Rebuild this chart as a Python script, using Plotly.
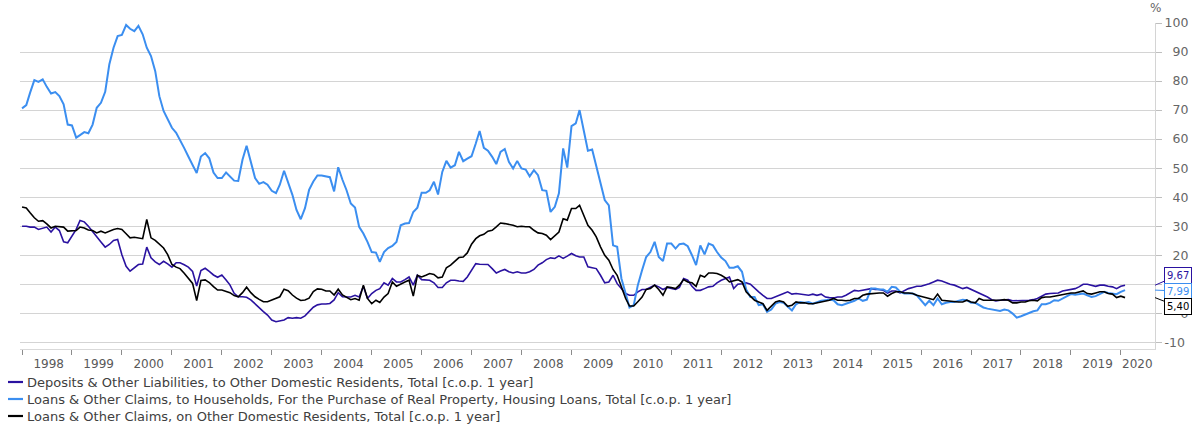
import pandas as pd
import plotly.graph_objects as go

# ---------------- data (monthly, Jan 1998 - Feb 2020) ----------------
months = pd.date_range("1998-01-01", periods=266, freq="MS")

deposits = [
    30, 30, 29.7, 29.7, 28.9, 29.2, 29.7, 28, 29.7, 28.5, 24.6, 24.3, 26.6, 28.9, 32, 31.5, 30, 28.3, 26.6, 24.6,
    22.8, 23.7, 25.1, 25.4, 20.2, 16.2, 14.5, 15.6, 16.8, 17, 22.8, 19.1, 17.7, 16.8, 17.9, 17, 15.9, 17.4, 17.4,
    16.7, 15.9, 14.4, 9.4, 14.7, 15.5, 14.4, 13.2, 12.4, 13.2, 11.5, 9.8, 6.9, 5.7, 5.7, 5.5, 4.6, 3.2, 1.7, 0.6,
    -0.6, -2.3, -2.9, -2.5, -2.3, -1.5, -1.7, -1.5, -1.7, -0.9, 0.6, 2.1, 2.9, 3.2, 3.2, 3.4, 4.6, 7.1, 5.7,
    5.6, 5.6, 6.2, 5.6, 9.3, 5.1, 6.8, 7.9, 8.5, 10.5, 9.7, 12, 10.8, 10.8, 11.6, 12.5, 9.7, 13.1, 11.6, 11.4,
    11.4, 10.5, 8.9, 8.9, 10.5, 11.4, 11.4, 11.1, 11, 12.5, 14.8, 17.1, 16.9, 16.9, 16.8, 15.4, 13.9, 14.6, 15.1, 14.3,
    13.9, 14.3, 13.9, 13.9, 14.3, 15.1, 16.6, 17.4, 18.5, 19.1, 18.9, 19.8, 18.9, 19.7, 20.6, 19.8, 19.4, 19.4, 16,
    15.7, 15.4, 13.1, 10.5, 10.8, 13.1, 10.2, 8.5, 6.8, 6.2, 6.2, 7.4, 8.2, 8.2, 8.9, 9.7, 9.1, 8.2, 8.9, 8.5,
    8.2, 8.9, 12, 11.4, 9.3, 7.9, 7.9, 8.5, 9.1, 9.3, 10.5, 11.4, 12, 12.5, 8.5, 10, 10.2, 10.5, 10, 8.5,
    7.4, 6.2, 5.1, 5.1, 5.6, 6.2, 6.8, 7.4, 6.6, 6.8, 6.6, 6.2, 6.2, 6.6, 6.2, 6.6, 5.6, 5.4, 5.3, 5.6,
    5.6, 6.2, 7, 7.9, 7.7, 7.9, 8.2, 8.5, 8.2, 8.2, 7.9, 7, 7.7, 7.7, 7, 7.9, 8.5, 8.9, 9.3, 9.3,
    9.7, 10.2, 10.8, 11.4, 11.1, 10.5, 10, 9.7, 9.1, 8.5, 8.9, 8.2, 7.7, 7, 6.2, 5.6, 4.7, 4.3, 4.5, 4.7,
    4.7, 4.3, 4.3, 4.3, 4.3, 4.5, 4.7, 5.1, 5.9, 6.6, 6.8, 6.8, 7, 7.7, 7.9, 8.2, 8.5, 9.1, 10, 10,
    9.7, 9.3, 9.7, 9.7, 9.3, 9.1, 8.5, 9.3, 9.67,
]

housing = [
    70.6, 71.7, 76, 80.3, 79.7, 80.6, 78, 75.7, 76.2, 74.8, 72, 65, 64.7, 60.5, 61.4, 62.4, 62, 65, 70.8, 72.5,
    76.3, 85.7, 91.5, 95.5, 95.9, 99.3, 98, 97.2, 99, 96.1, 91.5, 88.6, 83.4, 74.8, 69.7, 66.8, 63.9, 62.2, 59.9,
    56.9, 54, 51.1, 48.3, 54, 55.2, 53.4, 48.5, 46.6, 46.6, 48.5, 47.1, 45.7, 45.6, 52.9, 57.7, 52.3, 46.6, 44.6, 45.2,
    44.3, 42.2, 41.4, 44.3, 49.1, 44.8, 40.8, 35.6, 32.4, 36.2, 42.5, 45.4, 47.5, 47.5, 47.1, 46.9, 42, 50.3, 46,
    42.4, 37.8, 36.4, 29.8, 27.5, 24.6, 21.1, 20.9, 17.7, 21.1, 22.5, 23.2, 24.6, 30.3, 30.9, 31.1, 34.9, 36.4, 41.5, 41.5,
    42.4, 45.3, 40.9, 48.7, 52.5, 50.2, 51, 55.6, 52.4, 53.3, 54.1, 58.5, 62.8, 57, 56, 53.9, 51.4, 55.6, 56.6, 52.2,
    49.9, 52.5, 49.9, 49.5, 47.2, 49.3, 47.6, 42.4, 42.2, 34.9, 36.7, 41.3, 56.8, 50.2, 64.5, 65.4, 70, 62.9, 56,
    56.4, 51, 45.3, 39, 37.2, 23.4, 22.9, 12, 6.8, 2, 2.8, 9.7, 14.8, 19.4, 21.1, 24.6, 19.4, 18, 24, 24,
    22.3, 23.8, 24, 23.1, 20, 16.6, 23.4, 20.3, 24, 23.4, 21.1, 19.2, 18, 15.7, 15.7, 16.2, 14.3, 8.2, 5.6, 5.6,
    2.8, 3.1, 0.5, 1.3, 3.3, 3.9, 3.6, 2.2, 1, 3.1, 3.9, 3.6, 3.9, 3.3, 3.9, 4.3, 4.5, 4.7, 4.5, 3.1,
    2.8, 3.3, 3.9, 4.3, 5.1, 4.3, 4.7, 8.5, 8.5, 8.2, 8.2, 7.4, 9.1, 8.9, 7.4, 6.8, 6.8, 6.8, 6.2, 4.5,
    2.8, 4.3, 2.8, 5.1, 3.1, 3.6, 3.9, 3.9, 4.3, 4.7, 4.5, 3.6, 3.6, 2.8, 2, 1.6, 1.3, 1, 0.8, 1.3,
    1, -0.1, -1.5, -1, -0.3, 0.1, 0.7, 1, 3.1, 3.1, 3.6, 4.5, 4.3, 5.1, 5.9, 6.6, 6.4, 6.6, 6.8, 6.2,
    5.6, 5.9, 6.8, 7.4, 7, 6.8, 6.6, 7.4, 7.99,
]

loans = [
    36.6, 36.3, 34.6, 32.9, 31.7, 31.9, 30.8, 29.4, 30, 29.8, 29.7, 28.3, 28.3, 28.5, 29.7, 29.4, 28.7, 28.5, 27.7, 28.3,
    27.7, 28.3, 28.9, 29.2, 28.9, 27.4, 26, 26.2, 26, 25.7, 32.3, 26, 25.1, 23.7, 22.5, 20.2, 16.8, 15.9, 15.4,
    13.8, 12.1, 10.3, 4.4, 11.3, 11.5, 10.6, 9.2, 8, 8, 7.6, 7.1, 6.1, 5.7, 7.1, 9, 7.1, 5.7, 4.8, 4,
    4, 4.6, 5.2, 5.7, 8.3, 7.8, 6.3, 5.2, 4.4, 4.6, 5.2, 7.5, 8.4, 8.3, 7.7, 7.7, 6.3, 8.3, 6.3,
    5.6, 4.7, 5.1, 4.5, 9.7, 5.1, 3.3, 4.5, 3.7, 5.6, 6.8, 10.8, 9.3, 10.2, 10.8, 11.4, 5.9, 13.1, 12.5, 13.1,
    13.7, 13.4, 12.2, 12.5, 15.7, 16.6, 18, 19.2, 19.4, 20.8, 23.8, 25.7, 26.7, 27.2, 28.3, 28.6, 29.8, 31.1, 30.9, 30.7,
    30.3, 29.8, 30, 29.8, 29.8, 28.6, 27.7, 27.5, 26.9, 25.4, 26.9, 28, 32.6, 32.1, 36.1, 36.1, 37.2, 33.8, 30.3,
    28.6, 26.3, 22.9, 20, 18.3, 15.1, 13.1, 9.1, 5.1, 2.5, 2.5, 4, 5.6, 8.2, 8.5, 9.7, 8.2, 6.2, 9.1, 8.9,
    8.5, 9.7, 11.6, 10.8, 10.5, 9.3, 13.1, 12.5, 13.9, 13.9, 13.7, 13.1, 12.2, 10.8, 11.1, 11.6, 10.8, 7.4, 5.9, 4.5,
    3.9, 3.3, 1, 2.4, 3.9, 4.3, 3.9, 2.4, 2.8, 3.9, 3.6, 3.6, 3.3, 3.3, 3.6, 3.9, 4.1, 4.5, 5.1, 4.5,
    4.5, 4.3, 4.5, 5.1, 5.1, 6.2, 6.6, 6.8, 7, 7, 7, 5.9, 6.8, 7.4, 7.4, 7, 7, 6.8, 6.2, 5.9,
    5.6, 5.1, 4.7, 6.6, 4.5, 4.3, 4.3, 3.9, 3.9, 3.9, 4.5, 3.9, 3.6, 5.1, 4.5, 4.5, 4.5, 4.3, 4.5, 4.7,
    4.5, 3.6, 3.6, 3.9, 3.9, 4.3, 4.5, 4.3, 5.4, 5.6, 5.6, 5.9, 6.2, 6.6, 6.8, 7, 7, 7.4, 7.7, 6.8,
    6.6, 7, 7.4, 7.4, 6.8, 6.6, 5.4, 5.9, 5.40,
]

series_names = [
    "Deposits & Other Liabilities, to Other Domestic Residents, Total [c.o.p. 1 year]",
    "Loans & Other Claims, to Households, For the Purchase of Real Property, Housing Loans, Total [c.o.p. 1 year]",
    "Loans & Other Claims, on Other Domestic Residents, Total [c.o.p. 1 year]",
]
year_labels = [str(y) for y in range(1998, 2021)]
y_tick_values = list(range(-10, 101, 10))

# ---------------- styling ----------------
colors = ["#2a12a0", "#3b8ef0", "#000000"]
widths = [1.6, 2.0, 1.6]
FONT = "DejaVu Sans"
W, H = 1200, 429
ML, MR, MT, MB = 20, 45, 23, 80
PW, PH = W - ML - MR, H - MT - MB


def px_x(px):
    return (px - ML) / PW


def px_y(py):
    return (H - MB - py) / PH


fig = go.Figure()
for vals, name, col, w in zip([deposits, housing, loans], series_names, colors, widths):
    fig.add_trace(go.Scatter(x=months, y=vals, mode="lines", name=name,
                             line=dict(color=col, width=w), showlegend=False))

# year label positions (mid-year; last one pulled in to fit)
label_pos = [f"{y}-07-15" for y in range(1998, 2020)] + ["2020-05-01"]
year_starts = [f"{y}-01-01" for y in range(1998, 2021)]

FS = "\u2007"
y_tick_text = [(FS * (3 - len(str(v)))) + str(v) for v in y_tick_values]

fig.update_layout(
    width=W, height=H,
    margin=dict(l=ML, r=MR, t=MT, b=MB, autoexpand=False),
    paper_bgcolor="white", plot_bgcolor="white",
    font=dict(family=FONT, size=12, color="#595959"),
    showlegend=False,
    xaxis=dict(
        type="date", range=["1997-12-17", "2020-09-07"],
        showgrid=False, zeroline=False,
        showline=True, linecolor="#d9d9d9", linewidth=1,
        tickmode="array", tickvals=label_pos, ticktext=year_labels,
        ticks="", ticklabelstandoff=4,
        tickfont=dict(family=FONT, size=12, color="#595959"),
        minor=dict(tickmode="array", tickvals=year_starts, ticks="outside",
                   ticklen=5, tickcolor="#8c8c8c", tickwidth=1, showgrid=False),
    ),
    yaxis=dict(
        side="right", range=[-12.3, 100],
        tickmode="array", tickvals=y_tick_values, ticktext=y_tick_text,
        showgrid=True, gridcolor="#d4d4d4", gridwidth=1, zeroline=False,
        showline=True, linecolor="#d4d4d4", linewidth=1,
        ticks="outside", ticklen=6, tickcolor="#bfbfbf",
        tickfont=dict(family=FONT, size=12.5, color="#666666"),
    ),
)

# "%" unit label above the axis
fig.add_annotation(xref="paper", yref="paper", x=1.0, y=px_y(8), text="%",
                   showarrow=False, xanchor="center", yanchor="middle",
                   font=dict(family=FONT, size=12, color="#666666"))

# custom legend (short swatches, tight rows)
legend_rows = [382, 399, 416]
for name, col, py in zip(series_names, colors, legend_rows):
    fig.add_shape(type="line", xref="paper", yref="paper",
                  x0=px_x(8), x1=px_x(23), y0=px_y(py), y1=px_y(py),
                  line=dict(color=col, width=2.2))
    fig.add_annotation(xref="paper", yref="paper", x=px_x(25), y=px_y(py),
                       text=name, showarrow=False, xanchor="left", yanchor="middle",
                       font=dict(family=FONT, size=13, color="#404040"))

# last value callouts
last_vals = [deposits[-1], housing[-1], loans[-1]]
offsets = [-10, 1, 9]
for v, col, ay in zip(last_vals, colors, offsets):
    fig.add_annotation(
        xref="paper", yref="y", x=1.0, y=v,
        text=f"{v:.2f}".replace(".", ","),
        showarrow=True, arrowhead=0, arrowwidth=1, arrowcolor=col, standoff=0,
        ax=23, ay=ay, axref="pixel", ayref="pixel",
        bgcolor="white", bordercolor=col, borderwidth=1, borderpad=2,
        font=dict(family=FONT, size=10, color=col),
    )

fig.write_html("out.html", config={"displayModeBar": False},
               post_script="document.body.style.margin='0';document.body.style.overflow='hidden';")
